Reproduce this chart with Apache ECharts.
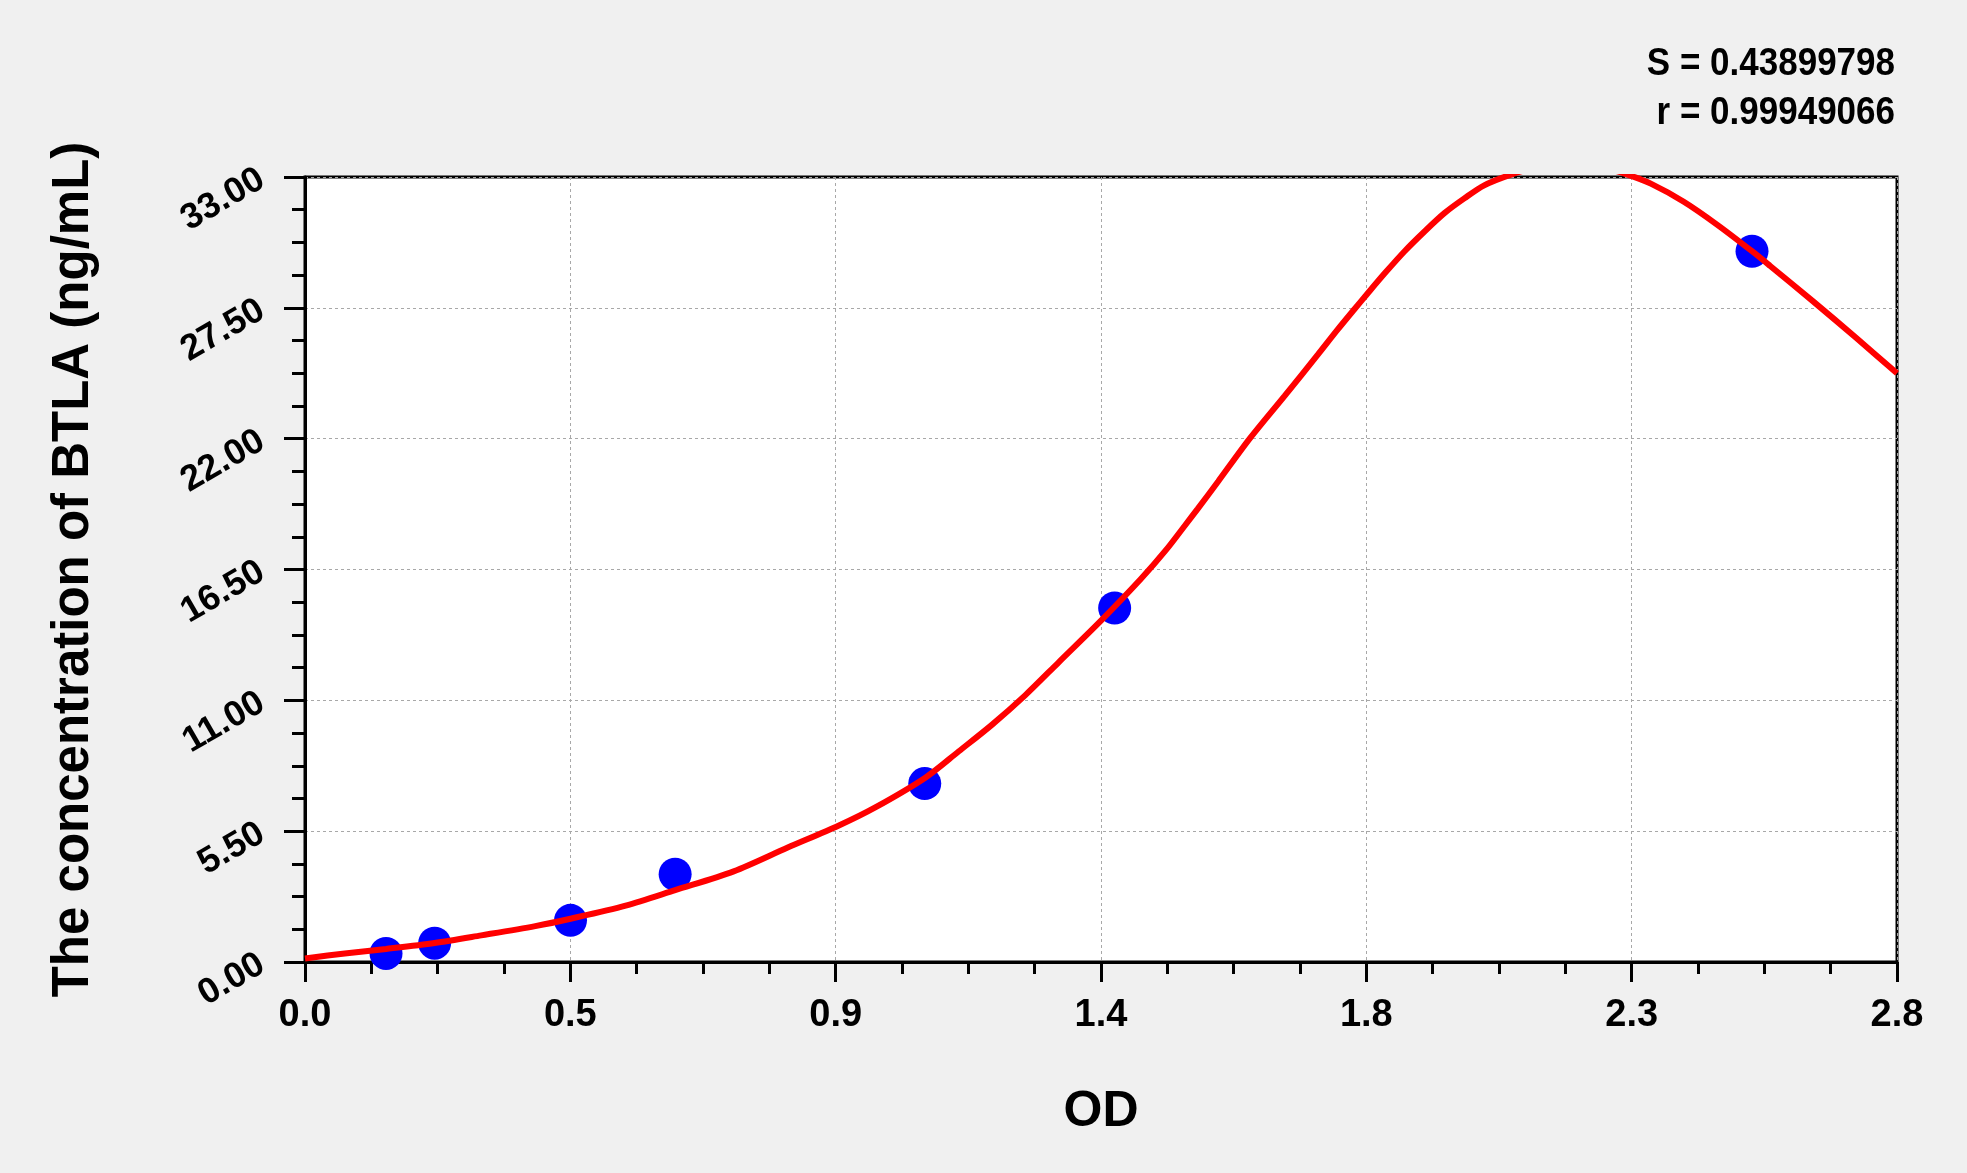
<!DOCTYPE html>
<html>
<head>
<meta charset="utf-8">
<script src="https://cdn.jsdelivr.net/npm/echarts@6/dist/echarts.min.js"></script>
<style>
  html, body { margin: 0; padding: 0; background: #f0f0f0; }
  #chart { width: 1967px; height: 1173px; }
</style>
</head>
<body>
<div id="chart"></div>
<script>
// ---- data ----
const xTickLabels = ['0.0', '0.5', '0.9', '1.4', '1.8', '2.3', '2.8'];
const yTickLabels = ['0.00', '5.50', '11.00', '16.50', '22.00', '27.50', '33.00'];

// standard points (OD, concentration)
const stdOD   = [0.1425, 0.228, 0.467, 0.651, 1.090, 1.424, 2.545];
const stdConc = [0.36,   0.79,  1.75,  3.69,  7.50,  14.88, 29.88];

// fitted curve (values above 33 estimated, clipped by the frame)
const curveOD = [0.000, 0.070, 0.1425, 0.228, 0.310, 0.405, 0.467, 0.564, 0.651, 0.754,
                 0.849, 0.939, 1.003, 1.091, 1.150, 1.208, 1.267, 1.326, 1.400, 1.470,
                 1.513, 1.547, 1.570, 1.606, 1.6615, 1.723, 1.782, 1.815, 1.846, 1.867,
                 1.899, 1.934, 1.969, 2.004, 2.039, 2.074, 2.121, 2.170, 2.224, 2.280,
                 2.326, 2.367, 2.425, 2.484, 2.545, 2.577, 2.653, 2.729, 2.800];
const curveConc = [0.15, 0.36, 0.55, 0.80, 1.12, 1.51, 1.82, 2.37, 3.02, 3.81,
                   4.81, 5.74, 6.50, 7.75, 8.86, 9.97, 11.22, 12.61, 14.35, 16.10,
                   17.28, 18.33, 19.05, 20.20, 22.00, 23.80, 25.55, 26.55, 27.45, 28.05,
                   28.95, 29.88, 30.71, 31.48, 32.10, 32.65, 33.10, 33.43, 33.57, 33.42,
                   33.10, 32.72, 31.96, 30.99, 29.88, 29.26, 27.76, 26.22, 24.75];

const statLines = ['S = 0.43899798', 'r = 0.99949066'];

const xMax = 2.8, xInterval = 2.8 / 6;
const yMax = 33, yInterval = 5.5;
const FONT = 'Liberation Sans, Arial, sans-serif';

const chart = echarts.init(document.getElementById('chart'), null, { renderer: 'canvas' });

const scatterData = stdOD.map((x, i) => [x, stdConc[i]]);
const curveData = curveOD.map((x, i) => [x, curveConc[i]]);

chart.setOption({
  animation: false,
  backgroundColor: '#f0f0f0',
  grid: {
    left: 305, top: 177, width: 1592, height: 785,
    show: true, backgroundColor: '#ffffff',
    borderColor: '#000000', borderWidth: 3
  },
  graphic: statLines.map((t, i) => ({
    type: 'text',
    x: 1895,
    y: 64 + i * 49,
    scaleY: 1.12,
    style: {
      text: t,
      font: 'bold 35px ' + FONT,
      fill: '#000000',
      textAlign: 'right',
      textVerticalAlign: 'middle'
    }
  })),
  xAxis: {
    type: 'value',
    min: 0, max: xMax, interval: xInterval,
    name: 'OD',
    nameLocation: 'middle',
    nameGap: 125,
    nameTextStyle: { fontFamily: FONT, fontWeight: 'bold', fontSize: 50, color: '#000' },
    axisLine: { show: true, onZero: false, lineStyle: { color: '#000', width: 3 } },
    axisTick: { show: true, length: 20, lineStyle: { color: '#000', width: 3 } },
    minorTick: { show: true, splitNumber: 4, length: 12, lineStyle: { color: '#000', width: 3 } },
    axisLabel: {
      margin: 35,
      fontFamily: FONT, fontWeight: 'bold', fontSize: 38, color: '#000',
      formatter: (v) => xTickLabels[Math.round(v / xInterval)]
    },
    splitLine: { show: true, lineStyle: { color: '#a8a8a8', width: 1, type: [3, 3] } }
  },
  yAxis: {
    type: 'value',
    min: 0, max: yMax, interval: yInterval,
    name: 'The concentration of BTLA (ng/mL)',
    nameLocation: 'middle',
    nameGap: 206,
    nameTextStyle: { fontFamily: FONT, fontWeight: 'bold', fontSize: 51, color: '#000' },
    axisLine: { show: true, onZero: false, lineStyle: { color: '#000', width: 3 } },
    axisTick: { show: true, length: 21, lineStyle: { color: '#000', width: 3 } },
    minorTick: { show: true, splitNumber: 4, length: 13, lineStyle: { color: '#000', width: 3 } },
    axisLabel: {
      margin: 43,
      rotate: 30,
      fontFamily: FONT, fontWeight: 'bold', fontSize: 36, color: '#000',
      formatter: (v) => yTickLabels[Math.round(v / yInterval)]
    },
    splitLine: { show: true, lineStyle: { color: '#a8a8a8', width: 1, type: [3, 3] } }
  },
  series: [
    {
      type: 'scatter',
      data: scatterData,
      symbol: 'circle',
      symbolSize: 33,
      itemStyle: { color: '#0000ff', opacity: 1 },
      z: 2
    },
    {
      type: 'line',
      data: curveData,
      showSymbol: false,
      smooth: 0.3,
      lineStyle: { color: '#ff0000', width: 6 },
      clip: true,
      z: 3
    }
  ]
});
</script>
</body>
</html>
